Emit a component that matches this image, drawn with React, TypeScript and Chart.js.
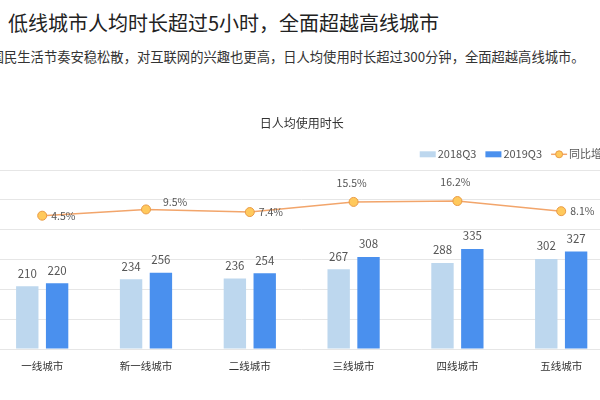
import React, { useEffect, useRef } from "react";
import { Chart, registerables } from "chart.js";

Chart.register(...registerables);

const pageTitle = "低线城市人均时长超过5小时，全面超越高线城市";
const pageSubtitle =
  "国民生活节奏安稳松散，对互联网的兴趣也更高，日人均使用时长超过300分钟，全面超越高线城市。";
const chartTitle = "日人均使用时长";
const categories = ["一线城市", "新一线城市", "二线城市", "三线城市", "四线城市", "五线城市"];
const seriesNames = ["2018Q3", "2019Q3", "同比增长"];
const series2018 = [210, 234, 236, 267, 288, 302];
const series2019 = [220, 256, 254, 308, 335, 327];
const yoyGrowth = [4.5, 9.5, 7.4, 15.5, 16.2, 8.1];
const lineLabelPlacement = ["right", "upright", "right", "top", "top", "right"];

const FONT = "'Noto Sans CJK SC', 'Noto Sans', sans-serif";
const C2018 = "#BDD7EE";
const C2019 = "#4A90EE";
const CLINE = "#F2A56B";
const CPOINT = "#FFC95C";
const CPOINTB = "#E99A45";

const valueLabels = {
  id: "valueLabels",
  afterDatasetsDraw(chart: any) {
    const ctx = chart.ctx;
    ctx.save();
    ctx.fillStyle = "#555";
    ctx.textBaseline = "middle";
    ctx.font = `11.5px ${FONT}`;
    ctx.textAlign = "center";
    [0, 1].forEach((di) => {
      const meta = chart.getDatasetMeta(di);
      meta.data.forEach((el: any, i: number) => {
        ctx.fillText(String(chart.data.datasets[di].data[i]), el.x, el.y - 13);
      });
    });
    const lm = chart.getDatasetMeta(2);
    ctx.font = `10.5px ${FONT}`;
    lm.data.forEach((el: any, i: number) => {
      const txt = yoyGrowth[i].toFixed(1) + "%";
      const p = lineLabelPlacement[i];
      if (p === "right") {
        ctx.textAlign = "left";
        ctx.fillText(txt, el.x + 9, el.y);
      } else if (p === "upright") {
        ctx.textAlign = "left";
        ctx.fillText(txt, el.x + 17, el.y - 7);
      } else {
        ctx.textAlign = "center";
        ctx.fillText(txt, el.x - 2, el.y - 19);
      }
    });
    ctx.restore();
  },
};

const customLegend = {
  id: "customLegend",
  afterDraw(chart: any) {
    const ctx = chart.ctx;
    const ca = chart.chartArea;
    ctx.save();
    ctx.font = `11px ${FONT}`;
    ctx.textBaseline = "middle";
    ctx.textAlign = "left";
    const y = ca.top - 15.7;
    const boxW = 16;
    const boxH = 6;
    const gapBT = 2;
    const gapItem = 9;
    const widths = seriesNames.map((t) => ctx.measureText(t).width);
    const total =
      widths.reduce((a, b) => a + b, 0) + 3 * (boxW + gapBT) + 2 * gapItem;
    let x = ca.right - total;
    const colors = [C2018, C2019];
    seriesNames.forEach((t, i) => {
      if (i < 2) {
        ctx.fillStyle = colors[i];
        ctx.fillRect(x, y - boxH / 2, boxW, boxH);
      } else {
        ctx.strokeStyle = CLINE;
        ctx.lineWidth = 1.5;
        ctx.beginPath();
        ctx.moveTo(x, y);
        ctx.lineTo(x + boxW, y);
        ctx.stroke();
        ctx.beginPath();
        ctx.arc(x + boxW / 2, y, 3.5, 0, Math.PI * 2);
        ctx.fillStyle = CPOINT;
        ctx.fill();
        ctx.strokeStyle = CPOINTB;
        ctx.lineWidth = 1;
        ctx.stroke();
      }
      x += boxW + gapBT;
      ctx.fillStyle = "#555";
      ctx.fillText(t, x, y);
      x += widths[i] + gapItem;
    });
    ctx.restore();
  },
};

function ChartView() {
  const ref = useRef<HTMLCanvasElement | null>(null);
  useEffect(() => {
    if (!ref.current) return;
    const chart = new Chart(ref.current, {
      type: "bar",
      data: {
        labels: categories,
        datasets: [
          {
            type: "bar",
            label: seriesNames[0],
            data: series2018,
            backgroundColor: C2018,
            yAxisID: "y",
            order: 1,
            categoryPercentage: 0.575,
            barPercentage: 0.75,
          },
          {
            type: "bar",
            label: seriesNames[1],
            data: series2019,
            backgroundColor: C2019,
            yAxisID: "y",
            order: 1,
            categoryPercentage: 0.575,
            barPercentage: 0.75,
          },
          {
            type: "line",
            label: seriesNames[2],
            data: yoyGrowth,
            borderColor: CLINE,
            borderWidth: 1.5,
            pointBackgroundColor: CPOINT,
            pointBorderColor: CPOINTB,
            pointBorderWidth: 1,
            pointRadius: 4.5,
            tension: 0,
            yAxisID: "y1",
            order: 0,
          } as any,
        ],
      },
      options: {
        responsive: false,
        animation: false,
        devicePixelRatio: 1,
        layout: { padding: { left: 30.3, right: 26.9, top: 0, bottom: 16.4 } },
        plugins: {
          legend: { display: false },
          tooltip: { enabled: false },
          title: {
            display: true,
            text: chartTitle,
            color: "#333",
            font: { family: FONT, size: 12, weight: "normal" as any },
            padding: { top: 16, bottom: 39.6 },
          },
        },
        scales: {
          x: {
            grid: { display: false, drawTicks: false },
            border: { display: false },
            ticks: {
              color: "#333",
              font: { family: FONT, size: 10.5 },
              padding: 11,
              maxRotation: 0,
              autoSkip: false,
            },
          },
          y: {
            min: 0,
            max: 600,
            ticks: { stepSize: 100, display: false },
            grid: { color: "#E6E6E6", drawTicks: false },
            border: { display: false },
          },
          y1: {
            position: "right",
            min: -102,
            max: 41,
            display: false,
          },
        },
      },
      plugins: [valueLabels, customLegend],
    });
    return () => chart.destroy();
  }, []);
  return (
    <canvas
      ref={ref}
      width={680}
      height={300}
      style={{ position: "absolute", left: -40, top: 100, width: 680, height: 300 }}
    />
  );
}

export default function App() {
  return (
    <div
      style={{
        position: "fixed",
        left: 0,
        top: 0,
        width: 600,
        height: 400,
        overflow: "hidden",
        background: "#fff",
        fontFamily: FONT,
      }}
    >
      <div
        style={{
          position: "absolute",
          left: 8,
          top: 13,
          fontSize: 20,
          lineHeight: "20px",
          color: "#222",
          whiteSpace: "nowrap",
        }}
      >
        {pageTitle}
      </div>
      <div
        style={{
          position: "absolute",
          left: -9.3,
          top: 49.7,
          fontSize: 13.3,
          lineHeight: "14px",
          color: "#333",
          whiteSpace: "nowrap",
        }}
      >
        {pageSubtitle}
      </div>
      <ChartView />
    </div>
  );
}
